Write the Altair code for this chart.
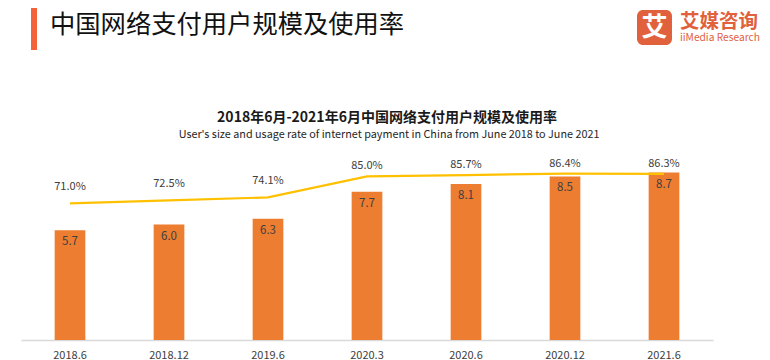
import altair as alt
import pandas as pd

periods = ["2018.6", "2018.12", "2019.6", "2020.3", "2020.6", "2020.12", "2021.6"]
users = [5.7, 6.0, 6.3, 7.7, 8.1, 8.5, 8.7]          # 亿人
rates = [71.0, 72.5, 74.1, 85.0, 85.7, 86.4, 86.3]   # %

main_title = "中国网络支付用户规模及使用率"
chart_title = "2018年6月-2021年6月中国网络支付用户规模及使用率"
chart_subtitle = "User's size and usage rate of internet payment in China from June 2018 to June 2021"
logo_cn = "艾媒咨询"
logo_en = "iiMedia Research"

FONT = "Noto Sans CJK SC"
BAR = "#ED7D31"
LINE = "#FFC000"
BRAND = "#E0613C"
TXT = "#404040"

df = pd.DataFrame({"period": periods, "users": users, "rate": rates, "idx": list(range(len(periods)))})

W, H = 692, 192.5

xenc = alt.X(
    "period:N", sort=periods,
    scale=alt.Scale(paddingInner=0.69, paddingOuter=0.34),
    axis=alt.Axis(title=None, labelAngle=0, ticks=False, domainColor="#D9D9D9", domainWidth=1.5,
                  labelFont=FONT, labelFontSize=11, labelColor=TXT, labelPadding=9, grid=False),
)
ybar = alt.Y("users:Q", scale=alt.Scale(domain=[0, 10]), axis=None)
yline = alt.Y("rate:Q", scale=alt.Scale(domain=[0, 100]), axis=None)

base = alt.Chart(df)

bars = base.mark_bar(color=BAR).encode(x=xenc, y=ybar)
bar_labels = base.mark_text(dy=12, font=FONT, fontSize=11.5, color=TXT, baseline="middle").encode(
    x=xenc, y=ybar, text=alt.Text("users:Q", format=".1f"))
line = base.mark_line(color=LINE, strokeWidth=2.2).encode(x=xenc, y=yline)
rate_lab1 = base.transform_filter("datum.idx < 3").transform_calculate(
    lab="format(datum.rate, '.1f') + '%'").mark_text(
    dy=-16, font=FONT, fontSize=11, color=TXT, baseline="middle").encode(x=xenc, y=yline, text="lab:N")
rate_lab2 = base.transform_filter("datum.idx >= 3").transform_calculate(
    lab="format(datum.rate, '.1f') + '%'").mark_text(
    dy=-10, font=FONT, fontSize=11, color=TXT, baseline="middle").encode(x=xenc, y=yline, text="lab:N")

one = alt.Data(values=[{"k": 1}])

def deco_text(txt, x, y, **kw):
    return alt.Chart(one).mark_text(text=txt, font=FONT, baseline="middle", **kw).encode(
        x=alt.value(x), y=alt.value(y))

def deco_rect(x, x2, y, y2, **kw):
    return alt.Chart(one).mark_rect(**kw).encode(
        x=alt.value(x), x2=alt.value(x2), y=alt.value(y), y2=alt.value(y2))

accent = deco_rect(10, 16, -141.5, -97.5, color="#F4623A")
header = deco_text(main_title, 29, -123, align="left", fontSize=25.3, color="#111111")
logo_box = deco_rect(616, 651, -137.5, -102.5, color=BRAND, cornerRadius=6)
logo_char = deco_text("艾", 633.5, -120, align="center", fontSize=26, fontWeight="bold", color="white")
logo_txt = deco_text(logo_cn, 659, -126, align="left", fontSize=19.5, fontWeight="bold", color=BRAND)
logo_sub = deco_text(logo_en, 659, -109.5, align="left", fontSize=10.2, color=BRAND)
t1 = deco_text(chart_title, 366, -29.5, align="center", fontSize=14, fontWeight="bold", color="#1a1a1a")
t2 = deco_text(chart_subtitle, 368, -13, align="center", fontSize=10.8, color="#262626")

data_layers = alt.layer(bars, bar_labels, line, rate_lab1, rate_lab2).resolve_scale(y="independent")

chart = alt.layer(
    data_layers, accent, header, logo_box, logo_char, logo_txt, logo_sub, t1, t2
).properties(
    width=W, height=H,
    background="white",
    autosize=alt.AutoSizeParams(type="none"),
    padding={"left": 13, "top": 139.5, "right": 49, "bottom": 20},
).configure_view(strokeWidth=0, stroke="transparent")

chart.save("out.html", embed_options={"renderer": "svg", "actions": False})
